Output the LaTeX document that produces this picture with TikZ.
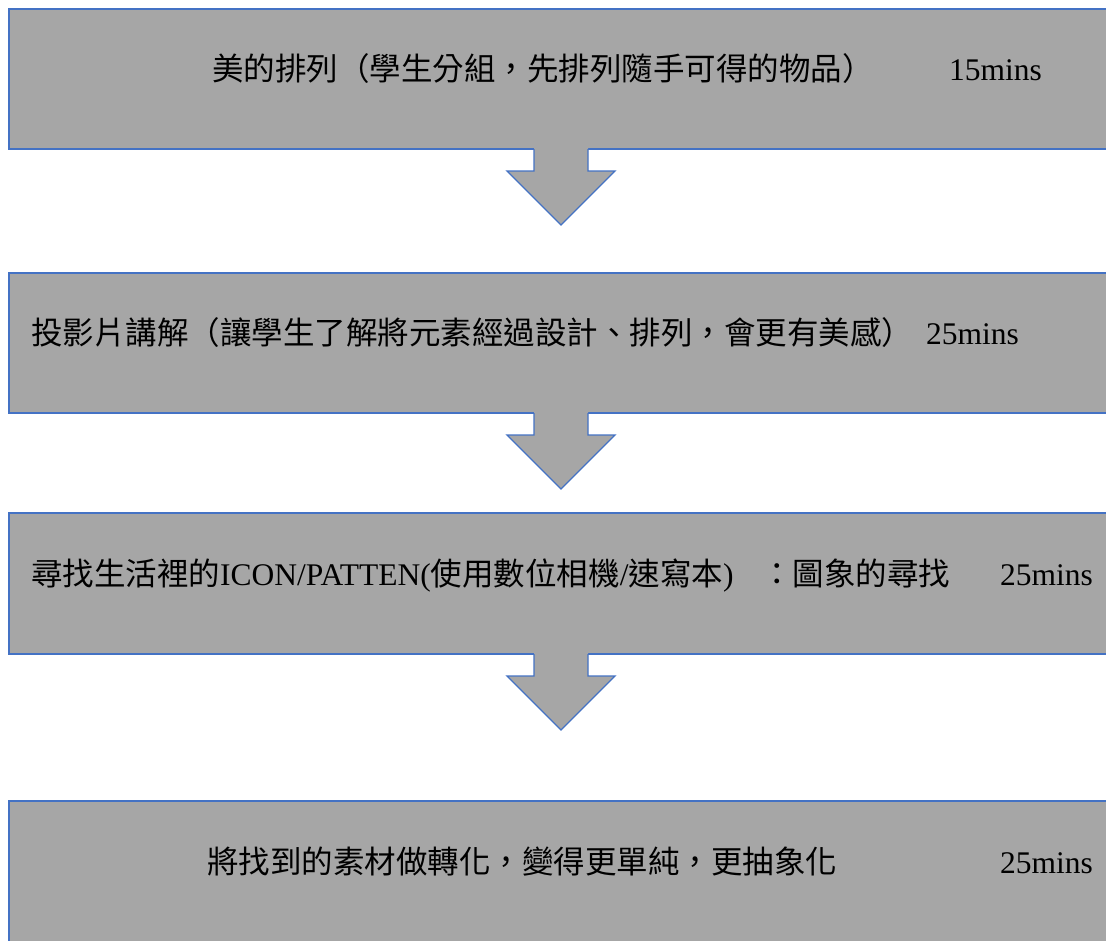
\documentclass[tikz,border=0pt]{standalone}
\usepackage{fontspec}
\setmainfont{Liberation Serif}
\newfontfamily\cjk{Noto Sans CJK TC}
\definecolor{boxgray}{HTML}{A6A6A6}
\definecolor{edgeblue}{HTML}{4472C4}
\tikzset{
  stepbox/.style={draw=edgeblue, fill=boxgray, line width=1.3pt, rectangle,
    anchor=north west, minimum width=1130pt, minimum height=140pt,
    inner sep=0pt, outer sep=0pt},
  steptext/.style={anchor=base west, inner sep=0pt, text=black,
    font=\fontsize{31.5}{36}\selectfont},
  downarr/.pic={
    \fill[boxgray] (-27,-1) -- (-27,22) -- (-54,22) -- (0,76) -- (54,22) -- (27,22) -- (27,-1) -- cycle;
    \draw[edgeblue, line width=1.3pt, line join=miter]
      (-27,0) -- (-27,22) -- (-54,22) -- (0,76) -- (54,22) -- (27,22) -- (27,0);
  }
}
\begin{document}
\begin{tikzpicture}[x=1pt, y=-1pt]
\useasboundingbox (0,0) rectangle (1106,940);
\clip (0,0) rectangle (1106,940);
\fill[white] (0,0) rectangle (1106,940);

% boxes
\node[stepbox] (b1) at (9,9) {};
\node[stepbox] (b2) at (9,273) {};
\node[stepbox, minimum height=141pt] (b3) at (9,513) {};
\node[stepbox, minimum height=160pt] (b4) at (9,801) {};

% arrows
\coordinate (a1) at (b1.south -| 561,0);
\coordinate (a2) at (b2.south -| 561,0);
\coordinate (a3) at (b3.south -| 561,0);
\pic at (a1) {downarr};
\pic at (a2) {downarr};
\pic at (a3) {downarr};

% texts
\node[steptext] (t1) at (212,80) {\cjk 美的排列（學生分組，先排列隨手可得的物品）};
\node[steptext] (m1) at (949,80) {15mins};

\node[steptext] (t2) at (31,344) {\cjk 投影片講解（讓學生了解將元素經過設計、排列，會更有美感）};
\node[steptext] (m2) at (926,344) {25mins};

\node[steptext] (t3) at (31,585) {{\cjk 尋找生活裡的}ICON/PATTEN({\cjk 使用數位相機}/{\cjk 速寫本}) \hspace{20pt}{\cjk ：圖象的尋找}};
\node[steptext] (m3) at (1000,585) {25mins};

\node[steptext] (t4) at (207,873) {\cjk 將找到的素材做轉化，變得更單純，更抽象化};
\node[steptext] (m4) at (1000,873) {25mins};
\end{tikzpicture}
\end{document}
